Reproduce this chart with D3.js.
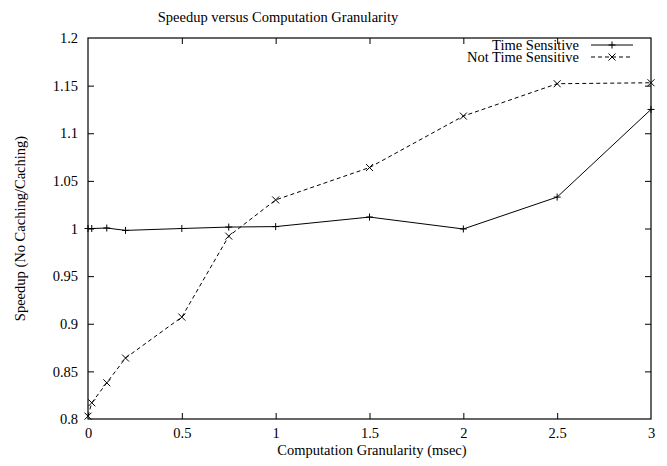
<!DOCTYPE html>
<html>
<head>
<meta charset="utf-8">
<script src="https://cdn.jsdelivr.net/npm/d3@7"></script>
<style>
  html, body { margin: 0; padding: 0; background: #fff; }
  svg { display: block; }
  text { font-family: "Liberation Serif", "Times New Roman", serif; fill: #000; }
</style>
</head>
<body>
<svg id="chart" width="667" height="466"></svg>
<script>
// ---- data ----
const granularity = [0, 0.02, 0.1, 0.2, 0.5, 0.75, 1, 1.5, 2, 2.5, 3];
const timeSensitive = [1.0, 1.0, 1.0005, 0.998, 1.0, 1.0015, 1.002, 1.012, 0.9995, 1.033, 1.125];
const notTimeSensitive = [0.803, 0.817, 0.838, 0.864, 0.907, 0.992, 1.030, 1.064, 1.118, 1.152, 1.153];
const xTicks = [0, 0.5, 1, 1.5, 2, 2.5, 3];
const yTicks = [0.8, 0.85, 0.9, 0.95, 1, 1.05, 1.1, 1.15, 1.2];
const seriesNames = ["Time Sensitive", "Not Time Sensitive"];
const titleText = "Speedup versus Computation Granularity";
const xLabelText = "Computation Granularity (msec)";
const yLabelText = "Speedup (No Caching/Caching)";

(function () {
const FS = 14.5;
const pL = 88, pR = 651, pT = 38, pB = 419;
const svg = d3.select("#chart");
svg.append("rect").attr("width", 667).attr("height", 466).attr("fill", "#fff");

const x = d3.scaleLinear().domain([0, 3]).range([pL, pR]);
const y = d3.scaleLinear().domain([0.8, 1.2]).range([pB, pT]);
const fmt = d => String(+d.toFixed(2));

const tickLen = 6;
const gx = svg.append("g").attr("transform", `translate(0,${pB})`)
  .call(d3.axisBottom(x).tickValues(xTicks).tickFormat(fmt).tickSizeInner(-tickLen).tickSizeOuter(0).tickPadding(9));
const gxt = svg.append("g").attr("transform", `translate(0,${pT})`)
  .call(d3.axisTop(x).tickValues(xTicks).tickFormat("").tickSizeInner(-tickLen).tickSizeOuter(0));
const gy = svg.append("g").attr("transform", `translate(${pL},0)`)
  .call(d3.axisLeft(y).tickValues(yTicks).tickFormat(fmt).tickSizeInner(-tickLen).tickSizeOuter(0).tickPadding(10));
const gyr = svg.append("g").attr("transform", `translate(${pR},0)`)
  .call(d3.axisRight(y).tickValues(yTicks).tickFormat("").tickSizeInner(-tickLen).tickSizeOuter(0));

[gx, gxt, gy, gyr].forEach(g => {
  g.select(".domain").remove();
  g.selectAll(".tick line").attr("stroke", "#000").attr("stroke-width", 1);
  g.selectAll("text").attr("font-size", FS).attr("font-family", "Liberation Serif, serif").attr("fill", "#000");
});
gx.selectAll(".tick").filter(d => d === 0 || d === 3).select("line").remove();
gxt.selectAll(".tick").filter(d => d === 0 || d === 3).select("line").remove();
gy.selectAll(".tick").filter(d => d === 0.8 || d === 1.2).select("line").remove();
gyr.selectAll(".tick").filter(d => d === 0.8 || d === 1.2).select("line").remove();

svg.append("rect").attr("x", pL).attr("y", pT).attr("width", pR - pL).attr("height", pB - pT)
  .attr("fill", "none").attr("stroke", "#000").attr("stroke-width", 1.2);

svg.append("text").attr("x", 278).attr("y", 17).attr("dy", "0.35em").attr("text-anchor", "middle")
  .attr("font-size", FS).text(titleText);
svg.append("text").attr("x", 372).attr("y", 450).attr("dy", "0.35em").attr("text-anchor", "middle")
  .attr("font-size", FS).text(xLabelText);
svg.append("text").attr("transform", `translate(20,${(pT + pB) / 2}) rotate(-90)`)
  .attr("dy", "0.35em").attr("text-anchor", "middle").attr("font-size", FS).text(yLabelText);

const ptsTS = granularity.map((g, i) => [g, timeSensitive[i]]);
const ptsNTS = granularity.map((g, i) => [g, notTimeSensitive[i]]);
const line = d3.line().x(d => x(d[0])).y(d => y(d[1]));

svg.append("path").datum(ptsTS).attr("d", line).attr("fill", "none").attr("stroke", "#000").attr("stroke-width", 1);
svg.append("path").datum(ptsNTS).attr("d", line).attr("fill", "none").attr("stroke", "#000").attr("stroke-width", 1)
  .attr("stroke-dasharray", "4,3");

const m = 3.5;
function plus(g, cx, cy) {
  g.append("path").attr("d", `M${cx - m},${cy}H${cx + m}M${cx},${cy - m}V${cy + m}`)
    .attr("stroke", "#000").attr("stroke-width", 1).attr("fill", "none");
}
function cross(g, cx, cy) {
  g.append("path").attr("d", `M${cx - m},${cy - m}L${cx + m},${cy + m}M${cx - m},${cy + m}L${cx + m},${cy - m}`)
    .attr("stroke", "#000").attr("stroke-width", 1).attr("fill", "none");
}
const gm = svg.append("g");
ptsTS.forEach(d => plus(gm, x(d[0]), y(d[1])));
ptsNTS.forEach(d => cross(gm, x(d[0]), y(d[1])));

const legX1 = 591, legX2 = 633, legTextX = 579;
const legRows = [45, 57];
seriesNames.forEach((name, i) => {
  const ly = legRows[i];
  svg.append("text").attr("x", legTextX).attr("y", ly).attr("dy", "0.35em").attr("text-anchor", "end")
    .attr("font-size", FS).text(name);
  svg.append("line").attr("x1", legX1).attr("x2", legX2).attr("y1", ly).attr("y2", ly)
    .attr("stroke", "#000").attr("stroke-width", 1).attr("stroke-dasharray", i === 1 ? "4,3" : null);
  if (i === 0) plus(svg, (legX1 + legX2) / 2, ly); else cross(svg, (legX1 + legX2) / 2, ly);
});
})();
</script>
</body>
</html>
